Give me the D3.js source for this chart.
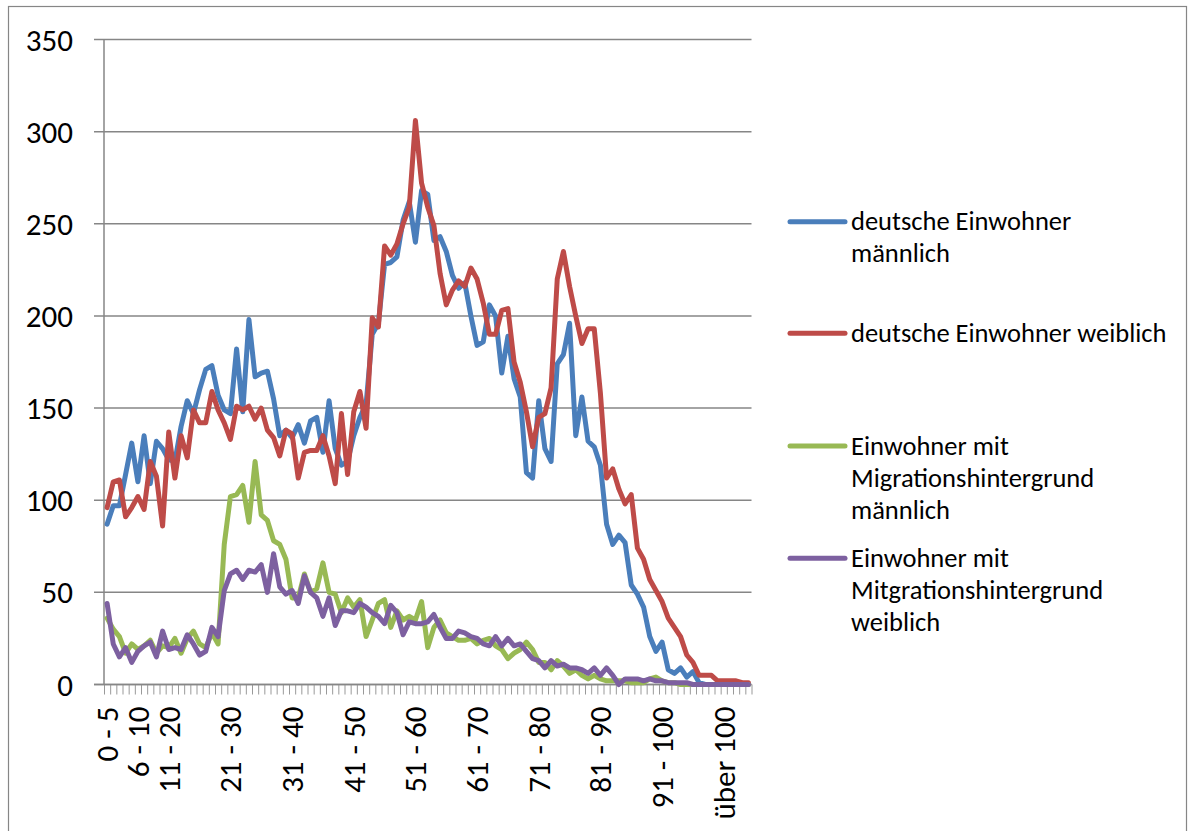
<!DOCTYPE html>
<html>
<head>
<meta charset="utf-8">
<script src="https://cdn.jsdelivr.net/npm/d3@7"></script>
<style>
  body { margin: 0; background: #fff; }
  svg { display: block; font-family: Carlito, Lato, sans-serif; }
</style>
</head>
<body>
<svg width="1190" height="831"></svg>
<script>
const width = 1190;
const height = 831;
const plot = {left: 104, right: 751.5, top: 39.5, bottom: 684.5};

// one category per age year; only some of them carry a label
const ageLabelAt = [0, 5, 10, 20, 30, 40, 50, 60, 70, 80, 90, 100];
const ageLabels = ["0 - 5", "6 - 10", "11 - 20", "21 - 30", "31 - 40", "41 - 50",
    "51 - 60", "61 - 70", "71 - 80", "81 - 90", "91 - 100", "über 100"];

const yTicks = [0, 50, 100, 150, 200, 250, 300, 350];

const seriesLegend = [
    ["deutsche Einwohner", "männlich"],
    ["deutsche Einwohner weiblich"],
    ["Einwohner mit", "Migrationshintergrund", "männlich"],
    ["Einwohner mit", "Mitgrationshintergrund", "weiblich"]
];
const seriesColor = ["#4a7ebb", "#be4b48", "#98b954", "#7d60a0"];

const deutschMaennlich = [
    87, 97, 97, 114, 131, 110, 135, 109, 132, 128,
    122, 121, 140, 154, 147, 160, 171, 173, 157, 149,
    147, 182, 148, 198, 167, 169, 170, 155, 135, 138,
    134, 141, 131, 143, 145, 126, 154, 128, 119, 121,
    135, 145, 152, 190, 196, 228, 229, 232, 252, 262,
    240, 268, 266, 241, 243, 235, 222, 215, 218, 200,
    184, 186, 206, 200, 169, 189, 166, 156, 115, 112,
    154, 128, 121, 174, 179, 196, 135, 156, 132, 129,
    119, 87, 76, 81, 77, 54, 49, 42, 26, 18,
    23, 8, 6, 9, 4, 7, 1, 0, 0, 0,
    0, 0, 0, 0, 0];
const deutschWeiblich = [
    96, 110, 111, 91, 96, 102, 95, 121, 113, 86,
    137, 112, 135, 123, 149, 142, 142, 159, 149, 142,
    133, 151, 149, 151, 144, 150, 138, 134, 124, 138,
    136, 112, 126, 127, 127, 135, 124, 109, 147, 114,
    148, 159, 139, 199, 194, 238, 233, 239, 250, 259,
    306, 272, 259, 249, 223, 206, 214, 219, 216, 226,
    220, 207, 190, 190, 203, 204, 175, 164, 148, 129,
    145, 147, 161, 220, 235, 216, 200, 185, 193, 193,
    158, 112, 117, 106, 98, 103, 74, 68, 57, 51,
    45, 36, 31, 26, 16, 12, 5, 5, 5, 2,
    2, 2, 2, 1, 1];
const migrationMaennlich = [
    36, 30, 26, 17, 22, 19, 21, 24, 17, 21,
    20, 25, 17, 25, 29, 22, 20, 28, 22, 76,
    102, 103, 108, 88, 121, 92, 89, 78, 76, 68,
    47, 47, 60, 50, 52, 66, 50, 49, 39, 47,
    42, 46, 26, 35, 44, 46, 31, 40, 35, 37,
    35, 45, 20, 31, 35, 28, 26, 24, 24, 25,
    22, 24, 25, 21, 19, 14, 17, 19, 23, 19,
    12, 12, 8, 13, 10, 6, 8, 5, 3, 5,
    3, 2, 2, 2, 2, 1, 1, 1, 3, 4,
    2, 1, 1, 0, 0, 0, 0, 0, 0, 0,
    0, 0, 0, 0, 0];
const migrationWeiblich = [
    44, 22, 15, 20, 12, 18, 21, 23, 15, 29,
    19, 20, 19, 27, 22, 16, 18, 31, 26, 51,
    60, 62, 57, 62, 61, 65, 50, 71, 53, 49,
    51, 44, 59, 50, 47, 37, 47, 32, 40, 40,
    39, 44, 42, 39, 37, 33, 43, 39, 27, 34,
    33, 33, 34, 38, 31, 25, 25, 29, 28, 26,
    25, 22, 21, 26, 21, 25, 21, 22, 18, 14,
    13, 9, 13, 10, 11, 9, 9, 8, 6, 9,
    5, 9, 5, 0, 3, 3, 3, 2, 3, 2,
    2, 1, 1, 1, 1, 0, 0, 0, 0, 0,
    0, 0, 0, 0, 0];

const allSeries = [deutschMaennlich, deutschWeiblich, migrationMaennlich, migrationWeiblich];
const ages = deutschMaennlich.map((d, i) => i);

const svg = d3.select("svg");
const gridColor = "#868686";

// chart frame
svg.append("rect")
    .attr("x", 8.5)
    .attr("y", 6.5)
    .attr("width", 1178)
    .attr("height", 840)
    .attr("fill", "none")
    .attr("stroke", gridColor)
    .attr("stroke-width", 1.2);

const x = d3.scaleBand()
    .domain(ages)
    .range([plot.left, plot.right]);

const xEdge = d3.scaleLinear()
    .domain([0, ages.length])
    .range([plot.left, plot.right]);

const y = d3.scaleLinear()
    .domain([0, 350])
    .range([plot.bottom, plot.top]);

// horizontal grid lines, reaching out as ticks
svg.append("g")
    .selectAll("line")
    .data(yTicks)
    .join("line")
        .attr("x1", plot.left - 10)
        .attr("x2", plot.right)
        .attr("y1", d => y(d))
        .attr("y2", d => y(d))
        .attr("stroke", gridColor)
        .attr("stroke-width", 1.5);

// y axis
svg.append("line")
    .attr("x1", plot.left)
    .attr("x2", plot.left)
    .attr("y1", plot.top)
    .attr("y2", plot.bottom)
    .attr("stroke", gridColor)
    .attr("stroke-width", 1.5);

svg.append("g")
    .selectAll("text")
    .data(yTicks)
    .join("text")
        .attr("x", 73)
        .attr("y", d => y(d))
        .attr("text-anchor", "end")
        .attr("dominant-baseline", "central")
        .style("font-size", "31px")
        .attr("fill", "#000")
        .text(d => d);

// category ticks between the age years
const xTickAxis = svg.append("g")
    .attr("transform", `translate(0, ${plot.bottom})`)
    .call(d3.axisBottom(xEdge).tickValues(d3.range(ages.length + 1)).tickSize(10).tickFormat(""));
xTickAxis.select(".domain").remove();
xTickAxis.selectAll("line")
    .attr("stroke", "#999")
    .attr("stroke-width", 1);

// x axis labels
const labelMap = new Map(ageLabelAt.map((d, i) => [d, ageLabels[i]]));
const xLabelAxis = svg.append("g")
    .attr("transform", `translate(0, ${plot.bottom})`)
    .call(d3.axisBottom(x).tickValues(ageLabelAt).tickSize(0).tickFormat(d => labelMap.get(d)));
xLabelAxis.select(".domain").remove();
xLabelAxis.selectAll("text")
    .attr("transform", "rotate(-90)")
    .attr("x", -22)
    .attr("y", 0)
    .attr("dy", "0.35em")
    .attr("text-anchor", "end")
    .attr("fill", "#000")
    .style("font-size", "31px")
    .style("font-family", "Carlito, Lato, sans-serif");

// x axis line
svg.append("line")
    .attr("x1", plot.left - 10)
    .attr("x2", plot.right)
    .attr("y1", plot.bottom)
    .attr("y2", plot.bottom)
    .attr("stroke", gridColor)
    .attr("stroke-width", 1.5);

// series lines
const line = d3.line()
    .x((d, i) => x(ages[i]) + x.bandwidth() / 2)
    .y(d => y(d));

svg.append("g")
    .selectAll("path")
    .data(allSeries)
    .join("path")
        .attr("d", line)
        .attr("fill", "none")
        .attr("stroke", (d, i) => seriesColor[i])
        .attr("stroke-width", 5)
        .attr("stroke-linejoin", "round")
        .attr("stroke-linecap", "round");

// legend
const legendY = [221.7, 333.3, 446, 558.3];
const legend = svg.append("g")
    .selectAll("g")
    .data(seriesLegend)
    .join("g")
        .attr("transform", (d, i) => `translate(790, ${legendY[i]})`);

legend.append("line")
    .attr("x1", 0)
    .attr("x2", 55)
    .attr("stroke", (d, i) => seriesColor[i])
    .attr("stroke-width", 5)
    .attr("stroke-linecap", "round");

legend.append("text")
    .attr("x", 61)
    .attr("y", 8.5)
    .style("font-size", "26.5px")
    .attr("fill", "#000")
    .selectAll("tspan")
    .data(d => d)
    .join("tspan")
        .attr("x", 61)
        .attr("dy", (d, i) => i === 0 ? 0 : 32)
        .text(d => d);
</script>
</body>
</html>
